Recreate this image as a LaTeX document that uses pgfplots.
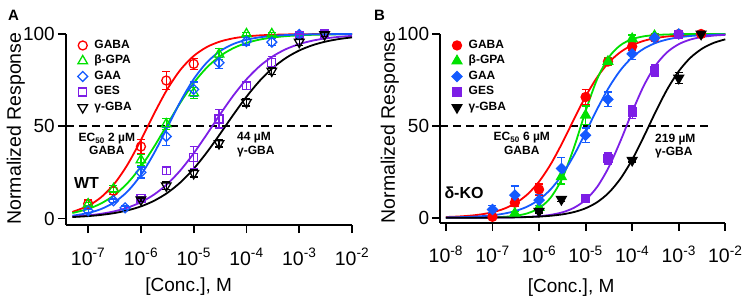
\documentclass[border=0pt]{standalone}
\usepackage{fontspec}
\setmainfont{Liberation Sans}
\usepackage{pgfplots}
\pgfplotsset{compat=1.18}

\definecolor{cGABA}{RGB}{255,0,0}
\definecolor{cBGPA}{RGB}{0,225,0}
\definecolor{cGAA}{RGB}{20,90,255}
\definecolor{cGES}{RGB}{125,30,230}
\definecolor{cGBA}{RGB}{0,0,0}

\newcommand{\xtk}[1]{10\textsuperscript{-#1}}

\tikzset{note/.style={font=\fontsize{12}{13.3}\selectfont\bfseries, align=center, inner sep=0pt}}

\pgfplotsset{
  doseaxis/.style={
    scale only axis, anchor=south west,
    axis x line*=bottom, axis y line*=left,
    axis line style={line width=1.8pt,-},
    tick align=outside, major tick length=8pt,
    every tick/.style={line width=1.8pt,black},
    ymax=100, ytick={0,50,100},
    clip=false,
    /pgf/number format/assume math mode=true,
    every x tick label/.style={font=\fontsize{19.5}{22}\selectfont, inner sep=0pt, yshift=-15pt},
    every y tick label/.style={font=\fontsize{19}{22}\selectfont, inner sep=0pt, xshift=-3pt},
    xlabel style={font=\fontsize{19}{22}\selectfont},
    ylabel style={font=\fontsize{19.5}{23}\selectfont},
    legend cell align=left,
    legend style={draw=none, fill=none, anchor=north west,
      font=\fontsize{12}{14}\selectfont\bfseries,
      nodes={inner sep=1.75pt, text height=9pt, text depth=3pt},
      /tikz/every odd column/.append style={column sep=5pt}},
  },
  fit/.style={line width=1.8pt, smooth, no markers, forget plot},
  half/.style={line width=1.6pt, dash pattern=on 8pt off 5pt, forget plot},
  pts/.style={only marks, line width=1.3pt,
    legend image code/.code={\draw[mark repeat=2,mark phase=2,##1] plot coordinates {(0pt,0pt)(5pt,0pt)(10pt,0pt)};},
    error bars/y dir=both, error bars/y explicit,
    error bars/error bar style={line width=1.3pt},
    error bars/error mark options={rotate=90, line width=1.3pt, mark size=4pt}},
}

\begin{document}
\begin{tikzpicture}
\path[use as bounding box] (0pt,0pt) rectangle (744pt,295pt);

\node[font=\fontsize{15}{18}\selectfont\bfseries] at (13.5pt,280pt) {A};
\node[font=\fontsize{15}{18}\selectfont\bfseries] at (379.5pt,280pt) {B};

% ---------------- Wild type ----------------
\begin{axis}[doseaxis,
  at={(66pt,70pt)}, width=286pt, height=191pt,
  xmin=-7.42, xmax=-2, ymin=-3.5,
  xtick={-7,-6,-5,-4,-3,-2},
  xticklabels={\xtk{7},\xtk{6},\xtk{5},\xtk{4},\xtk{3},\xtk{2}},
  xlabel={[Conc.], M}, ylabel={Normalized Response},
  xlabel style={at={(axis description cs:0.429,-0.325)}, anchor=center},
  ylabel style={at={(axis description cs:-0.175,0.505)}, anchor=center},
  legend style={at={(axis description cs:0.03,0.992)}},
]
\addplot[half] coordinates {(-7.42,50) (-2.38,50)};

% Hill fits
\addplot[fit, cGABA] coordinates {(-7.3,3.58) (-7.0,6.90) (-6.75,11.65) (-6.5,18.99) (-6.25,29.42) (-6.0,42.57) (-5.75,56.86) (-5.5,70.10) (-5.25,80.65) (-5.0,88.11) (-4.75,92.95) (-4.5,95.91) (-4.25,97.66) (-4.0,98.67) (-3.75,99.25) (-3.5,99.57) (-3.25,99.76) (-3.0,99.87) (-2.75,99.92) (-2.5,99.96) (-2.25,99.98) (-2.0,99.99)};
\addplot[fit, cBGPA] coordinates {(-7.3,2.98) (-7.0,5.23) (-6.75,8.26) (-6.5,12.80) (-6.25,19.33) (-6.0,28.10) (-5.75,38.93) (-5.5,50.98) (-5.25,62.91) (-5.0,73.45) (-4.75,81.87) (-4.5,88.04) (-4.25,92.31) (-4.0,95.14) (-3.75,96.97) (-3.5,98.12) (-3.25,98.84) (-3.0,99.28) (-2.75,99.56) (-2.5,99.73) (-2.25,99.83) (-2.0,99.90)};
\addplot[fit, cGAA] coordinates {(-7.3,1.52) (-7.0,3.00) (-6.75,5.21) (-6.5,8.90) (-6.25,14.81) (-6.0,23.61) (-5.75,35.46) (-5.5,49.42) (-5.25,63.48) (-5.0,75.55) (-4.75,84.60) (-4.5,90.72) (-4.25,94.56) (-4.0,96.86) (-3.75,98.21) (-3.5,98.99) (-3.25,99.43) (-3.0,99.68) (-2.75,99.82) (-2.5,99.90) (-2.25,99.94) (-2.0,99.97)};
\addplot[fit, cGES] coordinates {(-7.3,1.02) (-7.0,1.70) (-6.75,2.59) (-6.5,3.94) (-6.25,5.93) (-6.0,8.86) (-5.75,13.02) (-5.5,18.72) (-5.25,26.19) (-5.0,35.34) (-4.75,45.69) (-4.5,56.44) (-4.25,66.61) (-4.0,75.44) (-3.75,82.56) (-3.5,87.93) (-3.25,91.82) (-3.0,94.53) (-2.75,96.38) (-2.5,97.62) (-2.25,98.44) (-2.0,98.98)};
\addplot[fit, cGBA] coordinates {(-7.3,0.81) (-7.0,1.32) (-6.75,1.99) (-6.5,2.98) (-6.25,4.45) (-6.0,6.58) (-5.75,9.64) (-5.5,13.90) (-5.25,19.63) (-5.0,27.00) (-4.75,35.89) (-4.5,45.86) (-4.25,56.19) (-4.0,66.00) (-3.75,74.61) (-3.5,81.64) (-3.25,87.06) (-3.0,91.06) (-2.75,93.91) (-2.5,95.89) (-2.25,97.25) (-2.0,98.16)};

% mean +/- SEM
\addplot[pts, cGABA, mark=o, mark size=4.5pt, mark options={fill=white}]
  table[x=x, y=y, y error=e] {
x y e
-7 8 2
-6.52 15 2
-6 39 4
-5.52 74.8 5
-5 83.8 3
};
\addlegendentry{GABA}
\addplot[pts, cBGPA, mark=triangle, mark size=5.5pt, mark options={fill=white}]
  table[x=x, y=y, y error=e] {
x y e
-7 7.8 1
-6.52 16 2
-6 31.7 3
-5.52 51.2 3
-5 68 3
-4.52 89 3
-4 100 1
-3.52 100 1
};
\addlegendentry{β-GPA}
\addplot[pts, cGAA, mark=square, mark size=3.5pt, mark options={fill=white, rotate=45}]
  table[x=x, y=y, y error=e] {
x y e
-7 4.2 1
-6.52 9.6 1
-6.3 5.8 1
-6 25 3
-5.52 44.5 5
-5 70 4
-4.52 84.4 3
-4 96 2
-3.52 95.6 2
-3 99.7 1
};
\addlegendentry{GAA}
\addplot[pts, cGES, mark=square, mark size=4pt, mark options={fill=white}]
  table[x=x, y=y, y error=e] {
x y e
-6 11 1
-5.52 25.9 2
-5 33 6
-4.52 54 5
-4 72 2
-3.52 84.7 3
-3 99 1
-2.52 100 1
};
\addlegendentry{GES}
\addplot[pts, cGBA, mark=triangle, mark size=5.5pt, mark options={fill=white, rotate=180}]
  table[x=x, y=y, y error=e] {
x y e
-6 10.2 1
-5.52 17.8 2
-5 24.5 2
-4.52 40.7 2
-4 63 2
-3.52 80 2
-3 95.6 2
-2.52 99.7 1
};
\addlegendentry{γ-GBA}

\node[note] at (axis cs:-6.645,40.4) {EC\textsubscript{50} 2 µM\\GABA};
\node[note, align=left, anchor=west] at (axis cs:-4.18,40.1) {44 µM\\γ-GBA};
\node[font=\fontsize{16}{18}\selectfont\bfseries] at (axis cs:-7.03,19.5) {WT};
\end{axis}

% ---------------- delta knockout ----------------
\begin{axis}[doseaxis,
  at={(440.3pt,72.3pt)}, width=285pt, height=188.7pt,
  xmin=-8.12, xmax=-2, ymin=-2.7,
  xtick={-8,-7,-6,-5,-4,-3,-2},
  xticklabels={\xtk{8},\xtk{7},\xtk{6},\xtk{5},\xtk{4},\xtk{3},\xtk{2}},
  xlabel={[Conc.], M}, ylabel={Normalized Response},
  xlabel style={at={(axis description cs:0.459,-0.342)}, anchor=center},
  ylabel style={at={(axis description cs:-0.177,0.505)}, anchor=center},
  legend style={at={(axis description cs:0.03,0.992)}},
]
\addplot[half] coordinates {(-8.12,50) (-2.36,50)};

\addplot[fit, cGABA] coordinates {(-8.0,0.39) (-7.75,0.65) (-7.5,1.08) (-7.25,1.80) (-7.0,2.98) (-6.75,4.91) (-6.5,7.98) (-6.25,12.71) (-6.0,19.63) (-5.75,29.09) (-5.5,40.78) (-5.25,53.62) (-5.0,66.00) (-4.75,76.52) (-4.5,84.55) (-4.25,90.18) (-4.0,93.91) (-3.75,96.28) (-3.5,97.75) (-3.25,98.65) (-3.0,99.19) (-2.75,99.52) (-2.5,99.71) (-2.25,99.83) (-2.0,99.90)};
\addplot[fit, cBGPA] coordinates {(-8.0,0.01) (-7.75,0.02) (-7.5,0.04) (-7.25,0.10) (-7.0,0.22) (-6.75,0.49) (-6.5,1.08) (-6.25,2.40) (-6.0,5.21) (-5.75,10.96) (-5.5,21.59) (-5.25,38.14) (-5.0,58.00) (-4.75,75.55) (-4.5,87.37) (-4.25,93.93) (-4.0,97.20) (-3.75,98.73) (-3.5,99.43) (-3.25,99.74) (-3.0,99.89) (-2.75,99.95) (-2.5,99.98) (-2.25,99.99) (-2.0,100.00)};
\addplot[fit, cGAA] coordinates {(-8.0,0.17) (-7.75,0.29) (-7.5,0.48) (-7.25,0.81) (-7.0,1.35) (-6.75,2.25) (-6.5,3.72) (-6.25,6.09) (-6.0,9.82) (-5.75,15.46) (-5.5,23.48) (-5.25,34.00) (-5.0,46.38) (-4.75,59.22) (-4.5,70.91) (-4.25,80.36) (-4.0,87.30) (-3.75,92.02) (-3.5,95.09) (-3.25,97.01) (-3.0,98.20) (-2.75,98.92) (-2.5,99.35) (-2.25,99.61) (-2.0,99.77)};
\addplot[fit, cGES] coordinates {(-8.0,0.005) (-7.75,0.01) (-7.5,0.02) (-7.25,0.04) (-7.0,0.07) (-6.75,0.13) (-6.5,0.24) (-6.25,0.45) (-6.0,0.85) (-5.75,1.58) (-5.5,2.94) (-5.25,5.41) (-5.0,9.72) (-4.75,16.86) (-4.5,27.64) (-4.25,41.84) (-4.0,57.54) (-3.75,71.86) (-3.5,82.78) (-3.25,90.06) (-3.0,94.46) (-2.75,96.98) (-2.5,98.38) (-2.25,99.13) (-2.0,99.54)};
\addplot[fit, cGBA] coordinates {(-8.0,0.01) (-7.75,0.02) (-7.5,0.03) (-7.25,0.04) (-7.0,0.07) (-6.75,0.13) (-6.5,0.22) (-6.25,0.37) (-6.0,0.63) (-5.75,1.08) (-5.5,1.83) (-5.25,3.09) (-5.0,5.15) (-4.75,8.50) (-4.5,13.68) (-4.25,21.32) (-4.0,31.61) (-3.75,44.15) (-3.5,57.43) (-3.25,69.76) (-3.0,79.74) (-2.75,87.06) (-2.5,91.99) (-2.25,95.16) (-2.0,97.10)};

\addplot[pts, cGABA, mark=*, mark size=4.5pt]
  table[x=x, y=y, y error=e] {
x y e
-7 0.5 1
-6.52 8.2 2
-6 15.4 3
-5 65.7 4
-4.52 85 2
-4 93.2 2
-3.52 98 1
-3 100 1
-2.52 100 1
};
\addlegendentry{GABA}
\addplot[pts, cBGPA, mark=triangle*, mark size=5.5pt]
  table[x=x, y=y, y error=e] {
x y e
-6.52 2.4 1
-6 5.6 1
-5.52 22.3 4
-5 55.8 5
-4.52 85 2
-4 97.4 2
-3.52 99 1
};
\addlegendentry{β-GPA}
\addplot[pts, cGAA, mark=square*, mark size=3.5pt, mark options={rotate=45}]
  table[x=x, y=y, y error=e] {
x y e
-7 4.5 2
-6.52 12.3 5
-6 9.6 3
-5.52 26.8 6
-5 44.9 4
-4.52 64.4 4
-4 89.2 3
-3.52 97.9 2
-3 100 1
};
\addlegendentry{GAA}
\addplot[pts, cGES, mark=square*, mark size=4pt]
  table[x=x, y=y, y error=e] {
x y e
-5 10.5 1
-4.52 32.2 3
-4 57.5 3.3
-3.52 80.2 3
-3 99.7 1
};
\addlegendentry{GES}
\addplot[pts, cGBA, mark=triangle*, mark size=5.5pt, mark options={rotate=180}]
  table[x=x, y=y, y error=e] {
x y e
-6 3.5 1
-5.52 10 1
-4 31.3 1
-3 76 3
-2.52 100 1
};
\addlegendentry{γ-GBA}

\node[note] at (axis cs:-6.37,40.4) {EC\textsubscript{50} 6 µM\\GABA};
\node[note, align=left, anchor=west] at (axis cs:-3.51,39) {219 µM\\γ-GBA};
\node[font=\fontsize{16}{18}\selectfont\bfseries] at (axis cs:-7.61,13.7) {δ-KO};
\end{axis}
\end{tikzpicture}
\end{document}
